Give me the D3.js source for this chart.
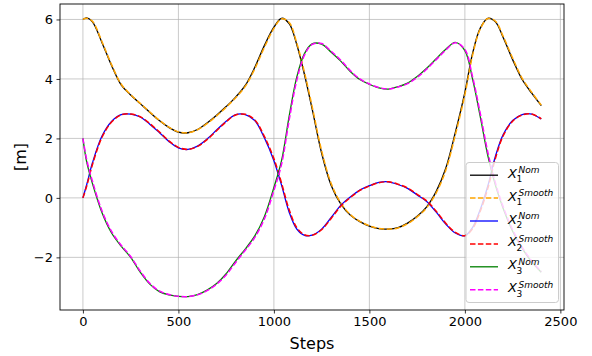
<!DOCTYPE html>
<html><head><meta charset="utf-8">
<script src="https://cdn.jsdelivr.net/npm/d3@7"></script>
<style>body{margin:0;background:#fff} svg{display:block}</style>
</head><body>
<svg id="c" width="592" height="356"></svg>
<script>
// ---- data ----
const steps = [0,20,50,100,150,200,250,300,350,400,450,500,550,600,650,700,750,800,850,900,950,1000,1040,1080,1120,1160,1200,1250,1300,1350,1400,1450,1500,1550,1600,1650,1700,1750,1800,1850,1900,1950,2000,2040,2080,2120,2160,2200,2250,2300,2350,2400];
const x1Nom = [6.00,6.05,5.92,5.22,4.45,3.80,3.46,3.17,2.88,2.60,2.37,2.21,2.19,2.30,2.52,2.78,3.07,3.39,3.78,4.39,5.12,5.74,6.04,5.86,5.15,4.15,3.00,1.50,0.42,-0.20,-0.58,-0.80,-0.95,-1.03,-1.05,-1.00,-0.85,-0.62,-0.30,0.22,1.00,2.20,3.55,4.85,5.70,6.04,5.92,5.40,4.65,3.98,3.52,3.10];
const x1Smooth = [6.00,6.04,5.94,5.25,4.48,3.83,3.47,3.18,2.89,2.61,2.38,2.22,2.19,2.29,2.50,2.76,3.05,3.37,3.75,4.34,5.06,5.70,6.02,5.90,5.20,4.22,3.08,1.58,0.48,-0.17,-0.56,-0.79,-0.94,-1.03,-1.05,-1.01,-0.87,-0.64,-0.33,0.17,0.93,2.12,3.47,4.79,5.67,6.03,5.94,5.44,4.70,4.02,3.55,3.12];
const x2Nom = [0.00,0.45,1.18,2.08,2.57,2.80,2.82,2.72,2.48,2.20,1.90,1.68,1.63,1.74,1.98,2.28,2.58,2.80,2.80,2.60,2.02,1.25,0.43,-0.48,-1.05,-1.26,-1.25,-1.05,-0.66,-0.25,0.03,0.26,0.41,0.52,0.54,0.45,0.32,0.10,-0.12,-0.48,-0.88,-1.18,-1.27,-1.00,-0.40,0.40,1.40,2.12,2.60,2.80,2.82,2.65];
const x2Smooth = [0.00,0.40,1.12,2.04,2.55,2.79,2.82,2.73,2.50,2.22,1.92,1.70,1.63,1.73,1.96,2.26,2.56,2.79,2.81,2.62,2.07,1.32,0.50,-0.40,-1.00,-1.24,-1.26,-1.07,-0.69,-0.28,0.01,0.25,0.40,0.51,0.54,0.46,0.33,0.12,-0.10,-0.45,-0.85,-1.16,-1.27,-1.04,-0.46,0.32,1.33,2.08,2.58,2.79,2.82,2.66];
const x3Nom = [2.00,1.20,0.48,-0.50,-1.18,-1.62,-2.00,-2.50,-2.90,-3.15,-3.26,-3.31,-3.32,-3.25,-3.10,-2.88,-2.55,-2.12,-1.72,-1.28,-0.63,0.35,1.25,2.75,4.07,4.85,5.18,5.17,4.90,4.60,4.25,3.98,3.82,3.70,3.66,3.74,3.86,4.08,4.36,4.68,5.00,5.23,4.95,4.00,2.75,1.42,0.42,-0.35,-1.12,-1.70,-2.15,-2.50];
const x3Smooth = [2.00,1.28,0.56,-0.44,-1.13,-1.59,-1.97,-2.46,-2.87,-3.13,-3.25,-3.31,-3.32,-3.26,-3.12,-2.90,-2.59,-2.17,-1.76,-1.33,-0.71,0.25,1.13,2.62,3.96,4.80,5.16,5.19,4.93,4.63,4.28,4.00,3.83,3.71,3.66,3.73,3.84,4.05,4.33,4.65,4.97,5.22,4.99,4.08,2.86,1.54,0.50,-0.29,-1.07,-1.66,-2.12,-2.48];
const xTicks = [0,500,1000,1500,2000,2500];
const yTicks = [-2,0,2,4,6];
const legendSubs = ["1","1","2","2","3","3"];
const legendSups = ["Nom","Smooth","Nom","Smooth","Nom","Smooth"];
const series = [
  {vals:x1Nom, color:"#000000", dash:null},
  {vals:x1Smooth, color:"#ffa500", dash:"5.5,2.4"},
  {vals:x2Nom, color:"#0000ff", dash:null},
  {vals:x2Smooth, color:"#ff0000", dash:"5.5,2.4"},
  {vals:x3Nom, color:"#008000", dash:null},
  {vals:x3Smooth, color:"#ff00ff", dash:"5.5,2.4"}
];

// ---- layout ----
const L=60, R=564, T=4, B=310;
const svg = d3.select("#c");
const font = "DejaVu Sans, sans-serif";
const x = d3.scaleLinear().domain([-120,2519]).range([L,R]);
const y = d3.scaleLinear().domain([-3.77,6.52]).range([B,T]);

svg.append("rect").attr("width",592).attr("height",356).attr("fill","#fff");

// grid
const grid = svg.append("g");
grid.selectAll("line.vx").data(xTicks.filter(t=>x(t)<=R)).enter().append("line")
  .attr("x1",d=>x(d)).attr("x2",d=>x(d)).attr("y1",T).attr("y2",B)
  .attr("stroke","#b0b0b0").attr("stroke-width",0.9).attr("stroke-opacity",0.75);
grid.selectAll("line.hy").data(yTicks).enter().append("line")
  .attr("x1",L).attr("x2",R).attr("y1",d=>y(d)).attr("y2",d=>y(d))
  .attr("stroke","#b0b0b0").attr("stroke-width",0.9).attr("stroke-opacity",0.75);

// curves
svg.append("clipPath").attr("id","clip").append("rect")
  .attr("x",L).attr("y",T).attr("width",R-L).attr("height",B-T);
const line = d3.line().x((d,i)=>x(steps[i])).y(d=>y(d)).curve(d3.curveCatmullRom.alpha(0.5));
const gl = svg.append("g").attr("clip-path","url(#clip)");
series.forEach(s=>{
  gl.append("path").attr("d",line(s.vals)).attr("fill","none")
    .attr("stroke",s.color).attr("stroke-width",s.dash?1.5:1.3)
    .attr("stroke-dasharray",s.dash).attr("stroke-linejoin","round");
});

// axes
const xAxis = d3.axisBottom(x).tickValues(xTicks).tickSize(3.5).tickPadding(3.5).tickSizeOuter(0).tickFormat(d3.format("d"));
const yAxis = d3.axisLeft(y).tickValues(yTicks).tickSize(3.5).tickPadding(3.5).tickSizeOuter(0);
const gx = svg.append("g").attr("transform",`translate(0,${B})`).call(xAxis);
const gy = svg.append("g").attr("transform",`translate(${L},0)`).call(yAxis);
[gx,gy].forEach(g=>{
  g.select(".domain").remove();
  g.selectAll("text").attr("font-family",font).attr("font-size",13).attr("fill","#000");
  g.selectAll("line").attr("stroke","#000").attr("stroke-width",0.8);
});
// frame
svg.append("rect").attr("x",L).attr("y",T).attr("width",R-L).attr("height",B-T)
  .attr("fill","none").attr("stroke","#000").attr("stroke-width",0.9);

// labels
svg.append("text").attr("x",(L+R)/2).attr("y",349).attr("text-anchor","middle")
  .attr("font-family",font).attr("font-size",16).text("Steps");
svg.append("text").attr("transform",`translate(26,${(T+B)/2}) rotate(-90)`).attr("text-anchor","middle")
  .attr("font-family",font).attr("font-size",16).text("[m]");

// legend
const lg = svg.append("g");
lg.append("rect").attr("x",466).attr("y",162.5).attr("width",92.5).attr("height",140)
  .attr("rx",3).attr("fill","#fff").attr("fill-opacity",0.8).attr("stroke","#cccccc").attr("stroke-width",1);
series.forEach((s,i)=>{
  const base = 177.7 + i*22.9;
  lg.append("line").attr("x1",470).attr("x2",498).attr("y1",base-2.5).attr("y2",base-2.5)
    .attr("stroke",s.color).attr("stroke-width",s.dash?1.5:1.3).attr("stroke-dasharray",s.dash);
  lg.append("text").attr("x",508).attr("y",base).attr("font-family",font).attr("font-style","italic")
    .attr("font-size",13).text("X");
  lg.append("text").attr("x",516.5).attr("y",base+4.4).attr("font-family",font)
    .attr("font-size",9).text(legendSubs[i]);
  lg.append("text").attr("x",518.5).attr("y",base-4.4).attr("font-family",font).attr("font-style","italic")
    .attr("font-size",9).text(legendSups[i]);
});
</script>
</body></html>
